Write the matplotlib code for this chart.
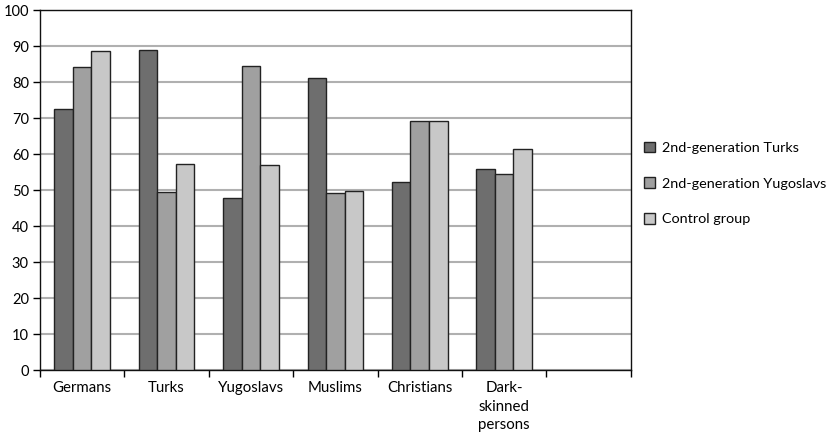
import matplotlib.pyplot as plt
import numpy as np

plt.rcParams['font.family'] = ['Lato', 'DejaVu Sans']

categories = ["Germans", "Turks", "Yugoslavs", "Muslims", "Christians", "Dark-\nskinned\npersons", ""]
series_names = ["2nd-generation Turks", "2nd-generation Yugoslavs", "Control group"]
turks = [72.4, 88.9, 47.7, 81.2, 52.3, 55.8]
yugoslavs = [84.3, 49.5, 84.6, 49.3, 69.2, 54.5]
control = [88.7, 57.2, 56.9, 49.7, 69.2, 61.5]
colors = ["#6e6e6e", "#a0a0a0", "#c8c8c8"]

fig = plt.figure(figsize=(8.38, 4.4), dpi=100)
ax = fig.add_axes([0.0477, 0.159, 0.705, 0.818])

x = np.arange(len(turks))
w = 0.22
for i, (vals, name) in enumerate(zip([turks, yugoslavs, control], series_names)):
    ax.bar(x + (i - 1) * w, vals, width=w, color=colors[i], edgecolor="#222222",
           linewidth=1, label=name, zorder=3)

ax.set_xlim(-0.5, len(categories) - 0.5)
ax.set_ylim(0, 100)
ax.set_yticks(range(0, 101, 10))
ax.yaxis.grid(True, color="#b0b0b0", linewidth=1.5, zorder=0)
ax.set_axisbelow(True)

ax.set_xticks(np.arange(len(categories)))
ax.set_xticklabels(categories, fontsize=10.8, linespacing=1.4, va="top")
ax.set_xticks(np.arange(len(categories) + 1) - 0.5, minor=True)
ax.tick_params(axis="x", which="major", length=0, pad=8)
ax.tick_params(axis="x", which="minor", length=5, width=1, direction="out")
ax.tick_params(axis="y", length=5, width=1, direction="out", labelsize=10.5, pad=3)

for s in ax.spines.values():
    s.set_color("#111111")
    s.set_linewidth(1)

handles, labels = ax.get_legend_handles_labels()
fig.legend(handles, labels, loc="center left", bbox_to_anchor=(0.769, 0.583),
           frameon=False, fontsize=10.4, labelspacing=1.62, handlelength=0.75,
           handleheight=0.75, handletextpad=0.5, borderpad=0, borderaxespad=0)

fig.savefig("out.png", dpi=100)
